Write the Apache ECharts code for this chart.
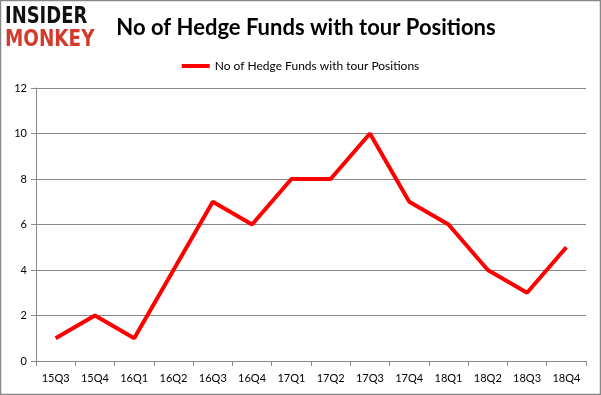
<!DOCTYPE html>
<html><head><meta charset="utf-8">
<script src="https://cdn.jsdelivr.net/npm/echarts@6/dist/echarts.min.js"></script>
<style>html,body{margin:0;padding:0;background:#fff}#c{width:601px;height:395px}</style>
</head><body><div id="c"></div>
<script>
const categories = ['15Q3','15Q4','16Q1','16Q2','16Q3','16Q4','17Q1','17Q2','17Q3','17Q4','18Q1','18Q2','18Q3','18Q4'];
const seriesName = 'No of Hedge Funds with tour Positions';
const values = [1,2,1,4,7,6,8,8,10,7,6,4,3,5];
const chart = echarts.init(document.getElementById('c'), null, {renderer:'canvas'});
chart.setOption({
  animation:false,
  backgroundColor:'#fff',
  title:{text:'No of Hedge Funds with tour Positions',left:301,textAlign:'center',top:12,
    textStyle:{fontFamily:'Lato',fontWeight:'bold',fontSize:22,color:'#000'}},
  legend:{top:55,left:'center',itemWidth:28,itemHeight:4,itemGap:2,icon:'rect',
    textStyle:{fontFamily:'Lato',fontSize:12,color:'#000'},data:[seriesName]},
  grid:{left:36,right:15,top:88,bottom:34,containLabel:false},
  xAxis:{type:'category',data:categories,boundaryGap:true,
    axisLine:{lineStyle:{color:'#888',width:1}},
    axisTick:{show:true,alignWithLabel:false,length:5,lineStyle:{color:'#888'}},
    axisLabel:{fontFamily:'Lato',fontSize:11,color:'#000',margin:12}},
  yAxis:{type:'value',min:0,max:12,interval:2,
    axisLine:{show:true,lineStyle:{color:'#888'}},
    axisTick:{show:true,length:5,inside:false,lineStyle:{color:'#888'}},
    splitLine:{lineStyle:{color:'#888',width:1}},
    axisLabel:{fontFamily:'Lato',fontSize:11,color:'#000',margin:9}},
  graphic:[
    {type:'rect',shape:{x:0.5,y:0.5,width:600,height:394},style:{fill:null,stroke:'#888',lineWidth:1.5},silent:true},
    {type:'text',x:5,y:6,scaleX:0.78,style:{text:'INSIDER',fontFamily:'DejaVu Sans',fontWeight:'bold',fontSize:23,fill:'#111'}},
    {type:'text',x:5,y:29,scaleX:0.8,style:{text:'MONKEY',fontFamily:'DejaVu Sans',fontWeight:'bold',fontSize:23,fill:'#d33a2c'}}
  ],
  series:[{name:seriesName,type:'line',data:values,symbol:'none',
    lineStyle:{color:'#ff0000',width:4},itemStyle:{color:'#ff0000'}}]
});
</script></body></html>
